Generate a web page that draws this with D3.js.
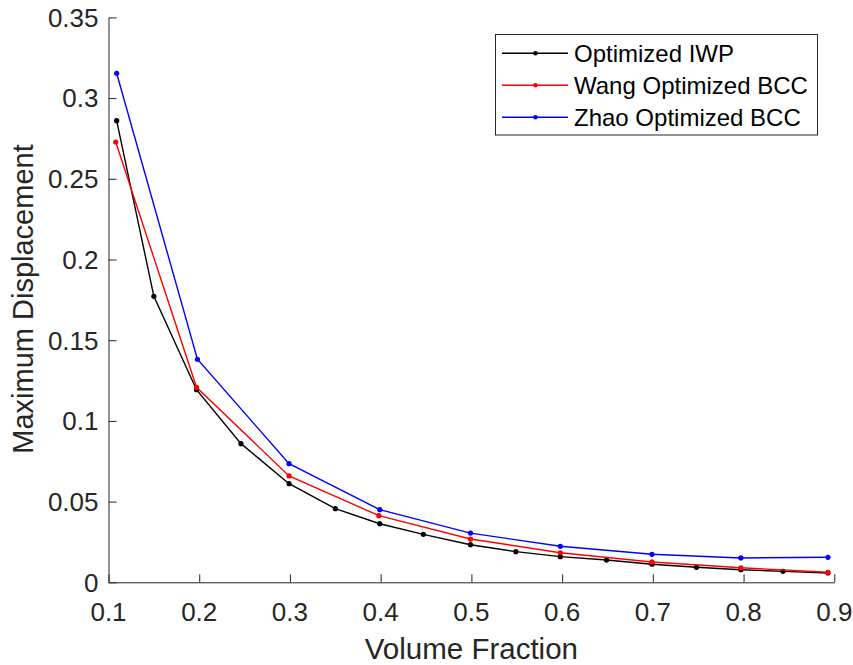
<!DOCTYPE html>
<html>
<head>
<meta charset="utf-8">
<script src="https://cdn.jsdelivr.net/npm/d3@7"></script>
<style>
  body { margin: 0; background: #fff; }
  text { font-family: "Liberation Sans", Arial, Helvetica, sans-serif; fill: #262626; }
</style>
</head>
<body>
<div id="chart"></div>
<script>
// volume fraction (x) and maximum displacement (y)
var iwpX = [0.109, 0.150, 0.197, 0.246, 0.299, 0.350, 0.399, 0.447, 0.499, 0.549, 0.598, 0.649, 0.699, 0.748, 0.797, 0.8435, 0.893];
var iwpY = [0.286, 0.1772, 0.1193, 0.0859, 0.0611, 0.0456, 0.0363, 0.0297, 0.0233, 0.0190, 0.0159, 0.0138, 0.0112, 0.0093, 0.0078, 0.0068, 0.0058];

var wangX = [0.108, 0.197, 0.299, 0.398, 0.499, 0.598, 0.699, 0.797, 0.893];
var wangY = [0.2728, 0.1208, 0.0659, 0.0413, 0.0268, 0.0183, 0.0126, 0.0090, 0.0062];

var zhaoX = [0.109, 0.198, 0.299, 0.399, 0.499, 0.598, 0.699, 0.797, 0.893];
var zhaoY = [0.3154, 0.1382, 0.0735, 0.0450, 0.0305, 0.0223, 0.01735, 0.0151, 0.0155];

var seriesNames = ["Optimized IWP", "Wang Optimized BCC", "Zhao Optimized BCC"];
var seriesColors = ["#000000", "#ff0000", "#0000ff"];

var xTicks = [0.1, 0.2, 0.3, 0.4, 0.5, 0.6, 0.7, 0.8, 0.9];
var yTicks = [0, 0.05, 0.1, 0.15, 0.2, 0.25, 0.3, 0.35];

var chart_width = 853, chart_height = 665;
var plotLeft = 108.5, plotRight = 834.3, plotTop = 17.4, plotBottom = 582.3;
var axisColor = "#262626";

var svg = d3.select("#chart").append("svg")
    .attr("width", chart_width)
    .attr("height", chart_height);

var x = d3.scaleLinear().domain([0.1, 0.9]).range([plotLeft, plotRight]);
var y = d3.scaleLinear().domain([0, 0.35]).range([plotBottom, plotTop]);

// axes: ticks point inward, labels drawn separately to match matlab spacing
svg.append("g")
    .attr("transform", "translate(0," + plotBottom + ")")
    .call(d3.axisBottom(x).tickValues(xTicks).tickSize(-8).tickSizeOuter(0).tickFormat(""));
svg.append("g")
    .attr("transform", "translate(" + plotLeft + ",0)")
    .call(d3.axisLeft(y).tickValues(yTicks).tickSize(-8).tickSizeOuter(0).tickFormat(""));
svg.selectAll(".domain, .tick line")
    .attr("stroke", axisColor)
    .attr("stroke-width", 1);

svg.selectAll(".xlab")
    .data(xTicks)
    .enter().append("text")
    .attr("x", function(d){ return x(d); })
    .attr("y", 620.5)
    .attr("text-anchor", "middle")
    .style("font-size", "26px")
    .text(function(d){ return d3.format("")(d); });

svg.selectAll(".ylab")
    .data(yTicks)
    .enter().append("text")
    .attr("x", plotLeft - 10)
    .attr("y", function(d){ return y(d); })
    .attr("dy", "0.36em")
    .attr("text-anchor", "end")
    .style("font-size", "26px")
    .text(function(d){ return d3.format("")(d); });

svg.append("text")
    .attr("x", (plotLeft + plotRight) / 2)
    .attr("y", 659)
    .attr("text-anchor", "middle")
    .style("font-size", "29.5px")
    .text("Volume Fraction");

svg.append("text")
    .attr("transform", "translate(33,299) rotate(-90)")
    .attr("text-anchor", "middle")
    .style("font-size", "29px")
    .text("Maximum Displacement");

// lines
var allX = [iwpX, wangX, zhaoX];
var allY = [iwpY, wangY, zhaoY];
var line = d3.line()
    .x(function(d){ return x(d[0]); })
    .y(function(d){ return y(d[1]); });

for (var i = 0; i < allX.length; i++) {
    var pts = allX[i].map(function(v, j){ return [v, allY[i][j]]; });
    svg.append("path")
        .datum(pts)
        .attr("d", line)
        .attr("fill", "none")
        .attr("stroke", seriesColors[i])
        .attr("stroke-width", 1.4);
    svg.selectAll(".dot" + i)
        .data(pts)
        .enter().append("circle")
        .attr("cx", function(d){ return x(d[0]); })
        .attr("cy", function(d){ return y(d[1]); })
        .attr("r", 2.6)
        .attr("fill", seriesColors[i]);
}

// legend
var legend = svg.append("g");
legend.append("rect")
    .attr("x", 495.5)
    .attr("y", 34.5)
    .attr("width", 322)
    .attr("height", 100.5)
    .attr("fill", "#fff")
    .attr("stroke", axisColor)
    .attr("stroke-width", 1);

for (var k = 0; k < seriesNames.length; k++) {
    var ry = 53.3 + k * 32;
    legend.append("line")
        .attr("x1", 502).attr("x2", 568)
        .attr("y1", ry).attr("y2", ry)
        .attr("stroke", seriesColors[k])
        .attr("stroke-width", 1.4);
    legend.append("circle")
        .attr("cx", 535.5).attr("cy", ry)
        .attr("r", 2.3)
        .attr("fill", seriesColors[k]);
    legend.append("text")
        .attr("x", 574)
        .attr("y", ry)
        .attr("dy", "0.36em")
        .style("font-size", "24px")
        .style("fill", "#000")
        .text(seriesNames[k]);
}
</script>
</body>
</html>
